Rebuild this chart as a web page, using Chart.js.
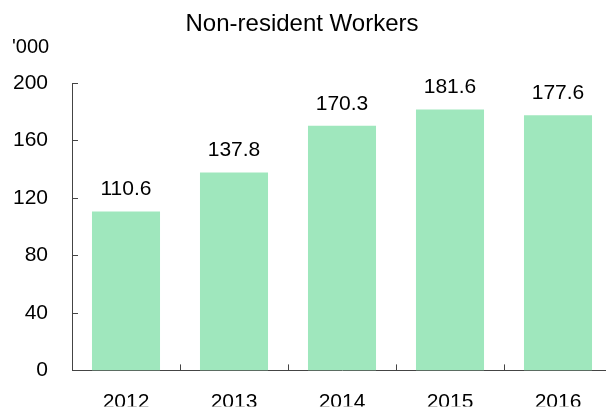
<!DOCTYPE html>
<html>
<head>
<meta charset="utf-8">
<script src="https://cdn.jsdelivr.net/npm/chart.js@4"></script>
<style>
  html, body { margin: 0; padding: 0; background: #fff; overflow: hidden; }
  #wrap { width: 606px; height: 407px; overflow: hidden; }
</style>
</head>
<body>
<div id="wrap"><canvas id="chart" width="612" height="407"></canvas></div>
<script>
const years = ['2012', '2013', '2014', '2015', '2016'];
const workers = [110.6, 137.8, 170.3, 181.6, 177.6];
const yTicks = [0, 40, 80, 120, 160, 200];
const titleText = 'Non-resident Workers';
const unitText = "'000";

const FONT = '"Liberation Sans", Arial, sans-serif';
const AXIS = '#444';
const INK = '#000';

// titre + unité, dessinés à la main pour placer au pixel
const textPlugin = {
  id: 'texts',
  afterDraw(chart) {
    const ctx = chart.ctx;
    ctx.save();
    ctx.fillStyle = INK;
    ctx.textBaseline = 'alphabetic';
    ctx.font = '24px ' + FONT;
    ctx.textAlign = 'center';
    ctx.fillText(titleText, 302, 31);
    ctx.font = '20px ' + FONT;
    ctx.textAlign = 'left';
    ctx.fillText(unitText, 12, 53);
    ctx.restore();
  }
};

// petites graduations tournées vers l'intérieur
const tickMarks = {
  id: 'tickMarks',
  afterDraw(chart) {
    const { x, y } = chart.scales;
    const ctx = chart.ctx;
    const area = chart.chartArea;
    ctx.save();
    ctx.strokeStyle = AXIS;
    ctx.lineWidth = 1;
    ctx.beginPath();
    y.ticks.forEach(t => {
      const py = Math.round(y.getPixelForValue(t.value)) + 0.5;
      ctx.moveTo(area.left, py);
      ctx.lineTo(area.left + 6, py);
    });
    for (let i = 1; i <= years.length; i++) {
      const px = Math.round((x.getPixelForValue(i - 1) + x.getPixelForValue(i)) / 2) + 0.5;
      ctx.moveTo(px, area.bottom);
      ctx.lineTo(px, area.bottom - 6);
    }
    ctx.stroke();
    ctx.restore();
  }
};

const valueLabels = {
  id: 'valueLabels',
  afterDatasetsDraw(chart) {
    const ctx = chart.ctx;
    const meta = chart.getDatasetMeta(0);
    ctx.save();
    ctx.fillStyle = INK;
    ctx.font = '21px ' + FONT;
    ctx.textAlign = 'center';
    ctx.textBaseline = 'alphabetic';
    meta.data.forEach((bar, i) => {
      ctx.fillText(workers[i].toFixed(1), bar.x, bar.y - 16);
    });
    ctx.restore();
  }
};

new Chart(document.getElementById('chart'), {
  type: 'bar',
  data: {
    labels: years,
    datasets: [{
      data: workers,
      backgroundColor: '#9FE7BD',
      borderWidth: 0,
      barPercentage: 0.63,
      categoryPercentage: 1
    }]
  },
  options: {
    responsive: false,
    animation: false,
    layout: { padding: { top: 83, left: 0, right: 0, bottom: 0 } },
    plugins: { legend: { display: false }, tooltip: { enabled: false } },
    scales: {
      x: {
        grid: { display: false, drawTicks: false },
        border: { display: true, color: AXIS, width: 1 },
        ticks: { color: INK, padding: 19, font: { family: FONT, size: 21 } },
        afterFit(scale) { scale.height = 36; }
      },
      y: {
        min: 0,
        max: 200,
        afterBuildTicks(scale) { scale.ticks = yTicks.map(v => ({ value: v })); },
        grid: { display: false, drawTicks: false },
        border: { display: true, color: AXIS, width: 1 },
        ticks: { color: INK, padding: 24, font: { family: FONT, size: 21 } },
        afterFit(scale) { scale.width = 72; }
      }
    }
  },
  plugins: [textPlugin, tickMarks, valueLabels]
});
</script>
</body>
</html>
